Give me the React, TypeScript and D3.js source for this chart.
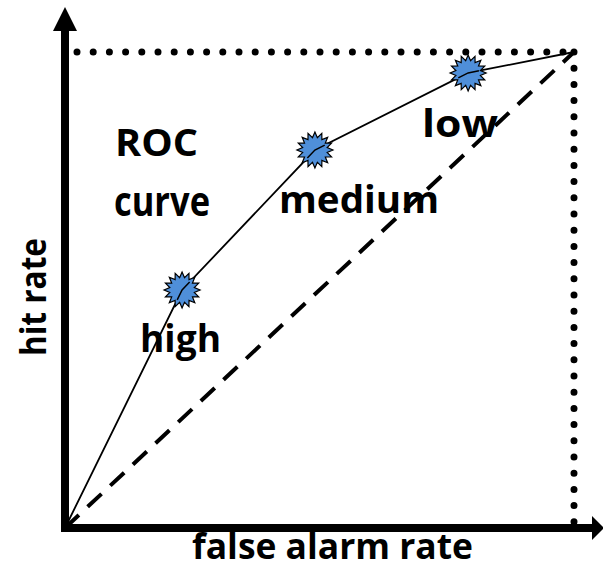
import React from "react";
import * as d3 from "d3";

const W = 603;
const H = 573;

// ROC operating points (false alarm rate, hit rate)
const curveLabels = ["origin", "high", "medium", "low", "end"];
const falseAlarm = [0, 0.23, 0.491, 0.792, 1];
const hitRate = [0, 0.5, 0.794, 0.956, 1];
const markerLabels = ["high", "medium", "low"];
const chanceX = [0, 1];
const chanceY = [0, 1];

const x = d3.scaleLinear().domain([0, 1]).range([65, 574]);
const y = d3.scaleLinear().domain([0, 1]).range([528, 52]);

const FONT = "'Open Sans', Lato, sans-serif";

function starPath(nPoints: number, rOuter: number, rInner: number) {
  const pts: [number, number][] = [];
  for (let i = 0; i < nPoints * 2; i++) {
    pts.push([(i * Math.PI) / nPoints, i % 2 === 0 ? rOuter : rInner]);
  }
  return d3.lineRadial().curve(d3.curveLinearClosed)(pts as any) as string;
}

export default function App() {
  const pts = falseAlarm.map((f, i) => [f, hitRate[i]] as [number, number]);
  const rocLine = d3
    .line<[number, number]>()
    .x((d) => x(d[0]))
    .y((d) => y(d[1]))(pts) as string;
  const chance = d3
    .line<[number, number]>()
    .x((d) => x(d[0]))
    .y((d) => y(d[1]))(chanceX.map((v, i) => [v, chanceY[i]])) as string;
  const star = starPath(16, 18, 12.5);
  const markers = pts.slice(1, 4);

  const labelStyle = {
    fontFamily: FONT,
    fontWeight: 700,
    fontSize: 38,
    fill: "#000",
  } as const;
  const axisStyle = { ...labelStyle, fontSize: 35 };

  return (
    <svg
      width={W}
      height={H}
      style={{ position: "absolute", left: 0, top: 0, background: "#fff" }}
    >
      <rect width={W} height={H} fill="#fff" />
      {/* labels */}
      <text {...labelStyle} x={115} y={156} textLength={83} lengthAdjust="spacingAndGlyphs">ROC</text>
      <text {...labelStyle} fontSize={42} x={114} y={216} textLength={96} lengthAdjust="spacingAndGlyphs">curve</text>
      <text {...labelStyle} x={140} y={352} textLength={81} lengthAdjust="spacingAndGlyphs">{markerLabels[0]}</text>
      <text {...labelStyle} x={279} y={213} textLength={160} lengthAdjust="spacingAndGlyphs">{markerLabels[1]}</text>
      <text {...labelStyle} x={422} y={137} textLength={76} lengthAdjust="spacingAndGlyphs">{markerLabels[2]}</text>
      <text
        {...axisStyle}
        transform="translate(46,356) rotate(-90)"
        textLength={118}
        lengthAdjust="spacingAndGlyphs"
      >
        hit rate
      </text>
      <text {...axisStyle} x={192} y={559} textLength={281} lengthAdjust="spacingAndGlyphs">
        false alarm rate
      </text>

      {/* dotted frame */}
      <line
        x1={x(0) + 12}
        y1={y(1)}
        x2={x(1)}
        y2={y(1)}
        stroke="#000"
        strokeWidth={7}
        strokeLinecap="round"
        strokeDasharray="0,16.2"
      />
      <line
        x1={x(1)}
        y1={y(1)}
        x2={x(1)}
        y2={y(0)}
        stroke="#000"
        strokeWidth={7}
        strokeLinecap="round"
        strokeDasharray="0,16.2"
      />

      {/* chance diagonal */}
      <path d={chance} fill="none" stroke="#000" strokeWidth={4} strokeDasharray="19,12" />

      {/* ROC curve */}
      <path d={rocLine} fill="none" stroke="#000" strokeWidth={1.8} />

      {/* markers */}
      {markers.map((p, i) => (
        <g key={curveLabels[i + 1]} transform={`translate(${x(p[0])},${y(p[1])})`}>
          <path d={star} fill="#4F8FD9" stroke="#000" strokeWidth={1.2} />
        </g>
      ))}
      {markers.map((p, i) => {
        const prev = pts[i];
        const next = pts[i + 2];
        const cx = x(p[0]);
        const cy = y(p[1]);
        const a1 = Math.atan2(y(prev[1]) - cy, x(prev[0]) - cx);
        const a2 = Math.atan2(y(next[1]) - cy, x(next[0]) - cx);
        const r = 11;
        return (
          <path
            key={"seg" + i}
            d={`M${cx + r * Math.cos(a1)},${cy + r * Math.sin(a1)}L${cx},${cy}L${cx + r * Math.cos(a2)},${cy + r * Math.sin(a2)}`}
            fill="none"
            stroke="#000"
            strokeWidth={1.5}
          />
        );
      })}

      {/* axes */}
      <line x1={x(0)} y1={y(0) + 4} x2={x(0)} y2={28} stroke="#000" strokeWidth={8} />
      <path d={`M${x(0)},7L${x(0) - 12},31L${x(0) + 12},31Z`} fill="#000" />
      <line x1={x(0) - 4} y1={y(0)} x2={594} y2={y(0)} stroke="#000" strokeWidth={8} />
      <path d={`M604,${y(0)}L592,${y(0) - 12}L592,${y(0) + 12}Z`} fill="#000" />
    </svg>
  );
}
